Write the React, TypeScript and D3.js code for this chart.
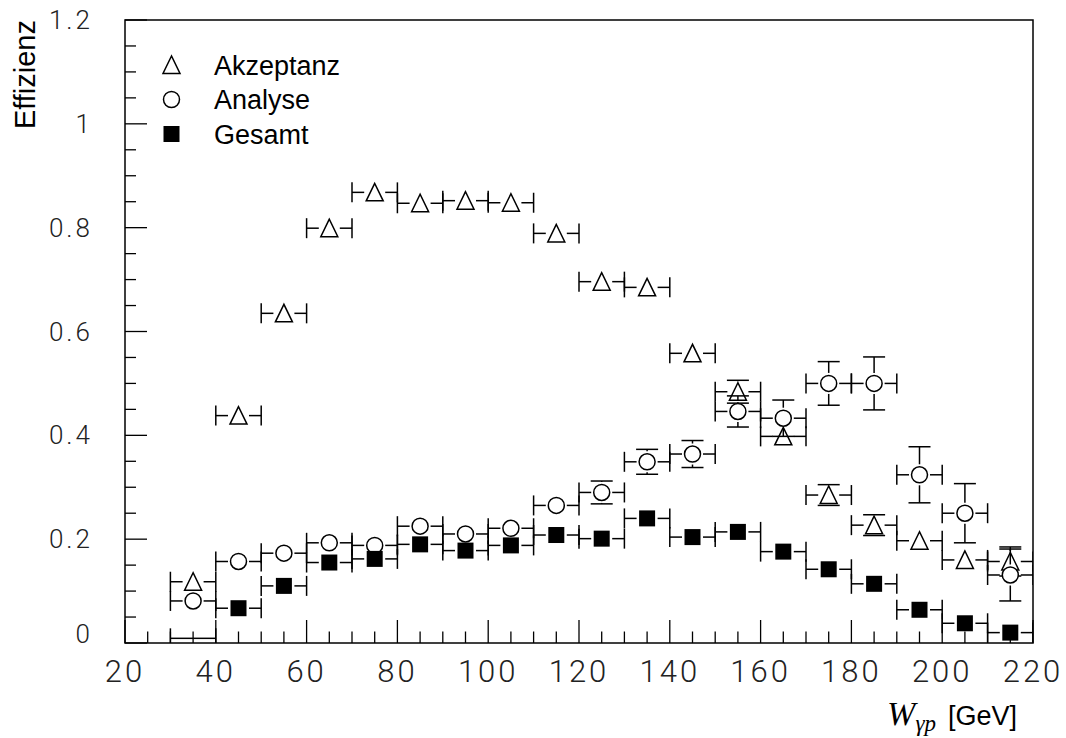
import React from "react";
import * as d3 from "d3";

// Bin-Mitten in W_gp [GeV], Binbreite 10 GeV
const binMitten = [35, 45, 55, 65, 75, 85, 95, 105, 115, 125, 135, 145, 155, 165, 175, 185, 195, 205, 215];
const binBreite = 10;

const akzeptanz = [0.118, 0.438, 0.635, 0.799, 0.868, 0.847, 0.852, 0.848, 0.789, 0.696, 0.685, 0.558, 0.484, 0.398, 0.285, 0.227, 0.197, 0.16, 0.157];
const akzeptanzFehler = [0.005, 0.005, 0.005, 0.005, 0.005, 0.005, 0.005, 0.005, 0.005, 0.005, 0.005, 0.008, 0.022, 0.015, 0.02, 0.02, 0.008, 0.008, 0.028];

const analyse = [0.081, 0.157, 0.173, 0.193, 0.188, 0.225, 0.21, 0.221, 0.265, 0.29, 0.349, 0.364, 0.446, 0.433, 0.5, 0.5, 0.324, 0.25, 0.131];
const analyseFehler = [0.008, 0.008, 0.008, 0.008, 0.008, 0.01, 0.01, 0.01, 0.012, 0.022, 0.024, 0.026, 0.03, 0.035, 0.042, 0.051, 0.054, 0.057, 0.05];

const gesamt = [0.009, 0.067, 0.11, 0.155, 0.162, 0.19, 0.178, 0.188, 0.208, 0.201, 0.24, 0.204, 0.214, 0.176, 0.142, 0.114, 0.064, 0.038, 0.02];
const gesamtFehler = [0.003, 0.004, 0.004, 0.005, 0.005, 0.005, 0.005, 0.005, 0.005, 0.005, 0.006, 0.006, 0.006, 0.006, 0.006, 0.006, 0.005, 0.004, 0.004];
// Bins ohne sichtbaren Marker
const gesamtOhneMarker = [35];

const xTickWerte = [20, 40, 60, 80, 100, 120, 140, 160, 180, 200, 220];
const yTickWerte = [0, 0.2, 0.4, 0.6, 0.8, 1, 1.2];
const yTickTexte = ["0", "0.2", "0.4", "0.6", "0.8", "1", "1.2"];

const legende = [
  { name: "Akzeptanz", marker: "dreieck" },
  { name: "Analyse", marker: "kreis" },
  { name: "Gesamt", marker: "quadrat" },
];

const W = 1066;
const H = 738;
const frame = { left: 125, right: 1033, top: 20, bottom: 643 };

const x = d3.scaleLinear().domain([20, 220]).range([frame.left, frame.right]);
const y = d3.scaleLinear().domain([0, 1.2]).range([frame.bottom, frame.top]);

const LW = 1.5;
const GAP = 10.5;
const TICK = 10;
const CAP = 11;

const tickFont = "Roboto, 'Liberation Sans', sans-serif";

function Marker({ art, cx, cy }: { art: string; cx: number; cy: number }) {
  if (art === "dreieck") {
    const p = `M${cx},${cy - 9} L${cx - 8.5},${cy + 8.5} L${cx + 8.5},${cy + 8.5} Z`;
    return <path d={p} fill="white" stroke="black" strokeWidth={LW} />;
  }
  if (art === "kreis") {
    return <circle cx={cx} cy={cy} r={8} fill="white" stroke="black" strokeWidth={LW} />;
  }
  return <rect x={cx - 8} y={cy - 8} width={16} height={16} fill="black" />;
}

function Serie({
  werte,
  fehler,
  art,
  ohneMarker = [],
}: {
  werte: number[];
  fehler: number[];
  art: string;
  ohneMarker?: number[];
}) {
  return (
    <g>
      {binMitten.map((c, i) => {
        const cx = x(c);
        const cy = y(werte[i]);
        const x0 = x(c - binBreite / 2);
        const x1 = x(c + binBreite / 2);
        const zeigeMarker = !ohneMarker.includes(c);
        const gap = zeigeMarker ? GAP : 0;
        const yOben = y(werte[i] + fehler[i]);
        const yUnten = y(werte[i] - fehler[i]);
        const teile: React.ReactNode[] = [];
        // horizontale Fehlerbalken mit Endstrichen
        teile.push(<line key="hl" x1={x0} x2={cx - gap} y1={cy} y2={cy} />);
        teile.push(<line key="hr" x1={cx + gap} x2={x1} y1={cy} y2={cy} />);
        teile.push(<line key="tl" x1={x0} x2={x0} y1={cy - TICK} y2={cy + TICK} />);
        teile.push(<line key="tr" x1={x1} x2={x1} y1={cy - TICK} y2={cy + TICK} />);
        // vertikale Fehlerbalken nur wenn größer als Marker
        if (cy - yOben > 8) {
          if (cy - yOben > GAP) teile.push(<line key="vo" x1={cx} x2={cx} y1={cy - GAP} y2={yOben} />);
          teile.push(<line key="co" x1={cx - CAP} x2={cx + CAP} y1={yOben} y2={yOben} />);
        }
        if (yUnten - cy > 8) {
          if (yUnten - cy > GAP) teile.push(<line key="vu" x1={cx} x2={cx} y1={cy + GAP} y2={yUnten} />);
          teile.push(<line key="cu" x1={cx - CAP} x2={cx + CAP} y1={yUnten} y2={yUnten} />);
        }
        return (
          <g key={c}>
            <g stroke="black" strokeWidth={LW}>{teile}</g>
            {zeigeMarker && <Marker art={art} cx={cx} cy={cy} />}
          </g>
        );
      })}
    </g>
  );
}

export default function App() {
  const xMinor = d3.range(20, 221, 5);
  const yMinor = d3.range(0, 1.2001, 0.05);

  return (
    <svg
      width={W}
      height={H}
      style={{ position: "absolute", left: 0, top: 0, background: "white" }}
    >
      <defs>
        <clipPath id="rahmen">
          <rect x={frame.left} y={frame.top} width={frame.right - frame.left} height={frame.bottom - frame.top} />
        </clipPath>
      </defs>
      <rect width={W} height={H} fill="white" />

      {/* Achsenstriche */}
      <g stroke="black" strokeWidth={1.3}>
        {xMinor.map((v) => (
          <line
            key={"xm" + v}
            x1={x(v)}
            x2={x(v)}
            y1={frame.bottom}
            y2={frame.bottom - (v % 20 === 0 ? 23 : 11.5)}
          />
        ))}
        {yMinor.map((v, i) => (
          <line
            key={"ym" + i}
            x1={frame.left}
            x2={frame.left + (i % 4 === 0 ? 22 : 11)}
            y1={y(v)}
            y2={y(v)}
          />
        ))}
      </g>

      {/* Tick-Beschriftungen */}
      <g fontFamily={tickFont} fontWeight={300} fill="#222">
        {xTickWerte.map((v) => (
          <text
            key={"xt" + v}
            x={x(v)}
            y={682}
            textAnchor="middle"
            fontSize={31}
            letterSpacing={3}
          >
            {v}
          </text>
        ))}
        {yTickWerte.map((v, i) => (
          <text
            key={"yt" + v}
            x={93}
            y={y(v) + (i === 0 ? -9 : 0)}
            dy="0.35em"
            textAnchor="end"
            fontSize={26}
            letterSpacing={3}
          >
            {yTickTexte[i]}
          </text>
        ))}
      </g>

      {/* Daten */}
      <g clipPath="url(#rahmen)">
        <Serie werte={akzeptanz} fehler={akzeptanzFehler} art="dreieck" />
        <Serie werte={analyse} fehler={analyseFehler} art="kreis" />
        <Serie werte={gesamt} fehler={gesamtFehler} art="quadrat" ohneMarker={gesamtOhneMarker} />
      </g>

      {/* Rahmen */}
      <rect
        x={frame.left}
        y={frame.top}
        width={frame.right - frame.left}
        height={frame.bottom - frame.top}
        fill="none"
        stroke="black"
        strokeWidth={1.5}
      />

      {/* Legende */}
      <g fontFamily="'Liberation Sans', Arial, sans-serif" fontSize={27}>
        {legende.map((l, i) => {
          const cy = 65 + i * 34.5;
          return (
            <g key={l.name}>
              <Marker art={l.marker} cx={171.5} cy={cy} />
              <text x={214} y={cy + 9.5}>
                {l.name}
              </text>
            </g>
          );
        })}
      </g>

      {/* Achsentitel */}
      <text
        transform="translate(35,20) rotate(-90)"
        textAnchor="end"
        fontFamily="'Liberation Sans', Arial, sans-serif"
        fontSize={29}
      >
        Effizienz
      </text>
      <text x={1017} y={725} textAnchor="end" fontSize={27}>
        <tspan fontFamily="'Liberation Serif', serif" fontStyle="italic" fontSize={34}>
          W
        </tspan>
        <tspan fontFamily="'Liberation Serif', serif" fontStyle="italic" fontSize={23} dy={6}>
          γp
        </tspan>
        <tspan fontFamily="'Liberation Sans', Arial, sans-serif" dy={-6} dx={12}>
          [GeV]
        </tspan>
      </text>
    </svg>
  );
}
